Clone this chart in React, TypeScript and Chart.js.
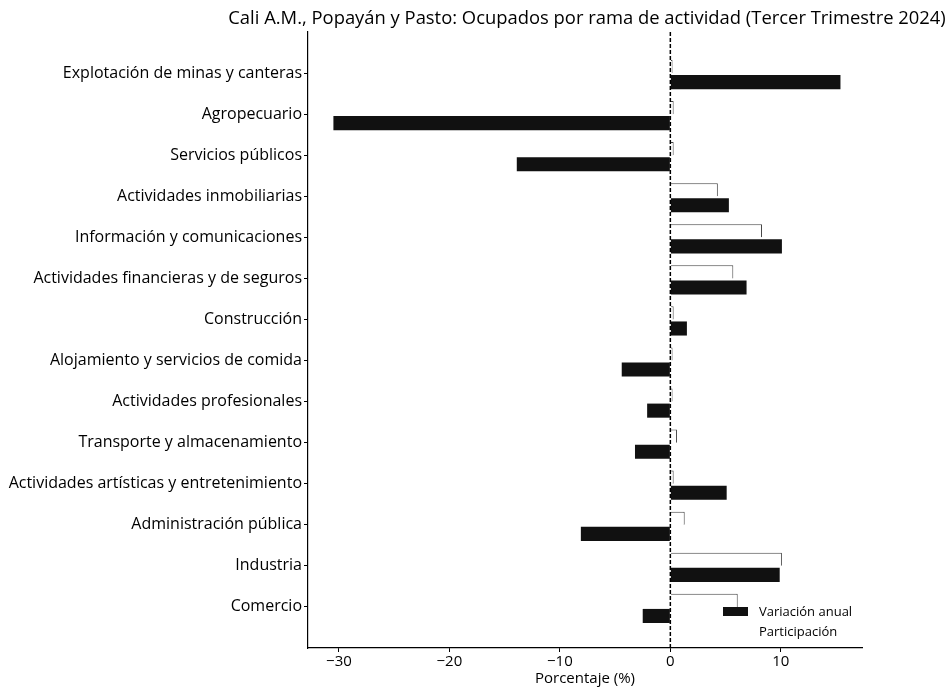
import React, { useEffect, useRef } from "react";
import { Chart, registerables } from "chart.js";

Chart.register(...registerables);

const categories: string[] = [
  "Explotación de minas y canteras",
  "Agropecuario",
  "Servicios públicos",
  "Actividades inmobiliarias",
  "Información y comunicaciones",
  "Actividades financieras y de seguros",
  "Construcción",
  "Alojamiento y servicios de comida",
  "Actividades profesionales",
  "Transporte y almacenamiento",
  "Actividades artísticas y entretenimiento",
  "Administración pública",
  "Industria",
  "Comercio",
];

const variacionAnual: number[] = [15.4, -30.5, -13.9, 5.3, 10.1, 6.9, 1.5, -4.4, -2.1, -3.2, 5.1, -8.1, 9.9, -2.5];
const participacion: number[] = [0.2, 0.3, 0.3, 4.3, 8.3, 5.7, 0.3, 0.2, 0.2, 0.6, 0.3, 1.3, 10.1, 6.1];

const xTicks: number[] = [-30, -20, -10, 0, 10];

const TITLE = "Cali A.M., Popayán y Pasto: Ocupados por rama de actividad (Tercer Trimestre 2024)";
const X_LABEL = "Porcentaje (%)";
const FONT = "'Open Sans', sans-serif";

export default function App() {
  const ref = useRef<HTMLCanvasElement | null>(null);

  useEffect(() => {
    document.body.style.margin = "0";
    const canvas = ref.current;
    if (!canvas) return;

    const overlay = {
      id: "overlay",
      afterDatasetsDraw(chart: any) {
        const ctx = chart.ctx;
        const xs = chart.scales.x;
        const area = chart.chartArea;
        const x0 = xs.getPixelForValue(0);
        ctx.save();
        ctx.strokeStyle = "#000";
        ctx.lineWidth = 1.5;
        ctx.setLineDash([4, 2]);
        ctx.beginPath();
        ctx.moveTo(x0, area.top);
        ctx.lineTo(x0, area.bottom);
        ctx.stroke();
        ctx.restore();
      },
      afterDraw(chart: any) {
        const ctx = chart.ctx;
        const area = chart.chartArea;
        ctx.save();
        ctx.fillStyle = "#000";
        ctx.textBaseline = "middle";
        ctx.textAlign = "center";
        ctx.font = `18.4px ${FONT}`;
        ctx.fillText(TITLE, (area.left + area.right) / 2 + 2, 19);
        ctx.font = `15px ${FONT}`;
        ctx.fillText(X_LABEL, (area.left + area.right) / 2, 679);
        // legend
        ctx.fillStyle = "#111";
        ctx.fillRect(723, 607, 25, 9);
        ctx.fillStyle = "#000";
        ctx.textAlign = "left";
        ctx.font = `13px ${FONT}`;
        ctx.fillText("Variación anual", 759, 612);
        ctx.fillText("Participación", 759, 632);
        ctx.restore();
      },
    };

    const chart = new Chart(canvas, {
      type: "bar",
      data: {
        datasets: [
          {
            label: "Participación",
            data: participacion.map((v, i) => ({ x: v, y: i })),
            backgroundColor: "#ffffff",
            borderColor: "#444",
            borderWidth: { top: 1, right: 1, bottom: 0, left: 0 } as any,
            borderSkipped: false,
            categoryPercentage: 0.64,
            barPercentage: 1,
          } as any,
          {
            label: "Variación anual",
            data: variacionAnual.map((v, i) => ({ x: v, y: i })),
            backgroundColor: "#111",
            borderWidth: 0,
            categoryPercentage: 0.88,
            barPercentage: 0.78,
          } as any,
        ],
      },
      options: {
        indexAxis: "y",
        animation: false,
        responsive: false,
        maintainAspectRatio: false,
        layout: { padding: { top: 32, right: 86, bottom: 0, left: 0 } },
        plugins: {
          legend: { display: false },
          title: { display: false },
          tooltip: { enabled: false },
        },
        scales: {
          x: {
            type: "linear",
            min: -32.8,
            max: 17.35,
            afterBuildTicks: (s: any) => {
              s.ticks = xTicks.map((v) => ({ value: v }));
            },
            afterFit: (s: any) => {
              s.height = 41;
            },
            grid: { drawOnChartArea: false, drawTicks: true, tickLength: 4, color: "#000" },
            border: { display: true, color: "#000", width: 1.2 },
            ticks: {
              color: "#000",
              padding: 1,
              font: { family: FONT, size: 15 },
              callback: (v: any) => (Number(v) < 0 ? "\u2212" + Math.abs(Number(v)) : String(v)),
            },
          },
          y: {
            type: "linear",
            reverse: true,
            offset: false,
            min: -1,
            max: 14,
            afterBuildTicks: (s: any) => {
              s.ticks = categories.map((_, i) => ({ value: i }));
            },
            afterFit: (s: any) => {
              s.width = 308;
            },
            grid: { offset: false, drawOnChartArea: false, drawTicks: true, tickLength: 4, color: "#000" },
            border: { display: true, color: "#000", width: 1.2 },
            ticks: {
              color: "#000",
              padding: 2,
              autoSkip: false,
              font: { family: FONT, size: 16 },
              callback: (v: any) => categories[Number(v)] ?? "",
            },
          },
        },
      } as any,
      plugins: [overlay],
    });

    return () => chart.destroy();
  }, []);

  return (
    <div style={{ width: 948, height: 689, background: "#fff" }}>
      <canvas ref={ref} width={948} height={689} style={{ display: "block", width: 948, height: 689 }} />
    </div>
  );
}
